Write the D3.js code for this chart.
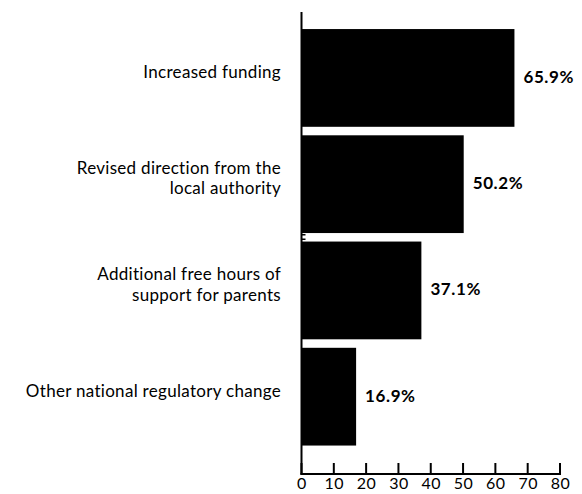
<!DOCTYPE html>
<html>
<head>
<meta charset="utf-8">
<script src="https://cdn.jsdelivr.net/npm/d3@7"></script>
<style>
  html, body { margin: 0; padding: 0; background: #fff; }
  svg { display: block; }
  text { font-family: "Lato", "Open Sans", sans-serif; fill: #000; }
</style>
</head>
<body>
<div id="chart"></div>
<script>
const categories = [
  ["Increased funding"],
  ["Revised direction from the", "local authority"],
  ["Additional free hours of", "support for parents"],
  ["Other national regulatory change"]
];
const values = [65.9, 50.2, 37.1, 16.9];
const xTicks = [0, 10, 20, 30, 40, 50, 60, 70, 80];

const W = 582, H = 494;
const svg = d3.select("#chart").append("svg").attr("width", W).attr("height", H);

const x = d3.scaleLinear().domain([0, 80]).range([301.5, 560]);
const keys = categories.map((c, i) => i);
const y = d3.scaleBand().domain(keys).range([24.8, 449.8]).paddingInner(0.08).paddingOuter(0.04);

const axisY = 474;

// bars
svg.selectAll("rect.bar").data(values).enter().append("rect")
  .attr("class", "bar")
  .attr("x", x(0))
  .attr("y", (d, i) => y(i))
  .attr("width", d => x(d) - x(0))
  .attr("height", y.bandwidth())
  .attr("fill", "#000");

// value labels
svg.selectAll("text.val").data(values).enter().append("text")
  .attr("class", "val")
  .attr("x", d => x(d) + 9)
  .attr("y", (d, i) => y(i) + y.bandwidth() / 2 - 1)
  .attr("dy", "0.35em")
  .attr("font-size", 17)
  .attr("font-weight", "bold")
  .attr("letter-spacing", 0.6)
  .text(d => d.toFixed(1) + "%");

// category labels
const lh = 20.5;
categories.forEach((lines, i) => {
  const cy = y(i) + y.bandwidth() / 2 - 6;
  const t = svg.append("text")
    .attr("text-anchor", "end")
    .attr("font-size", 17)
    .attr("letter-spacing", 0.3);
  lines.forEach((ln, j) => {
    t.append("tspan")
      .attr("x", 281)
      .attr("y", cy + (j - (lines.length - 1) / 2) * lh)
      .attr("dy", "0.35em")
      .text(ln);
  });
});

// y axis line
svg.append("line")
  .attr("x1", x(0)).attr("x2", x(0))
  .attr("y1", 12).attr("y2", axisY + 1)
  .attr("stroke", "#000").attr("stroke-width", 2);

// small tick mark between bars 2 and 3
const midY = (y(1) + y.bandwidth() + y(2)) / 2;
svg.append("path")
  .attr("d", `M${x(0)},${midY - 2.5}h4M${x(0)},${midY + 2}h4`)
  .attr("stroke", "#000").attr("stroke-width", 1.5).attr("fill", "none");

// x axis
const xAxis = d3.axisBottom(x).tickValues(xTicks).tickSize(0).tickPadding(4).tickFormat(d3.format("d"));
const gx = svg.append("g").attr("transform", `translate(0,${axisY})`).call(xAxis);
gx.select(".domain").remove();
gx.selectAll("text").attr("font-size", 16).attr("letter-spacing", 0.5).attr("font-family", "Lato, sans-serif").attr("fill", "#000");
svg.append("line")
  .attr("x1", x(0) - 1).attr("x2", x(80) + 1)
  .attr("y1", axisY).attr("y2", axisY)
  .attr("stroke", "#000").attr("stroke-width", 2);
svg.selectAll("line.tk").data(xTicks).enter().append("line")
  .attr("class", "tk")
  .attr("x1", d => x(d)).attr("x2", d => x(d))
  .attr("y1", axisY - 11).attr("y2", axisY)
  .attr("stroke", "#000").attr("stroke-width", 2);
</script>
</body>
</html>
